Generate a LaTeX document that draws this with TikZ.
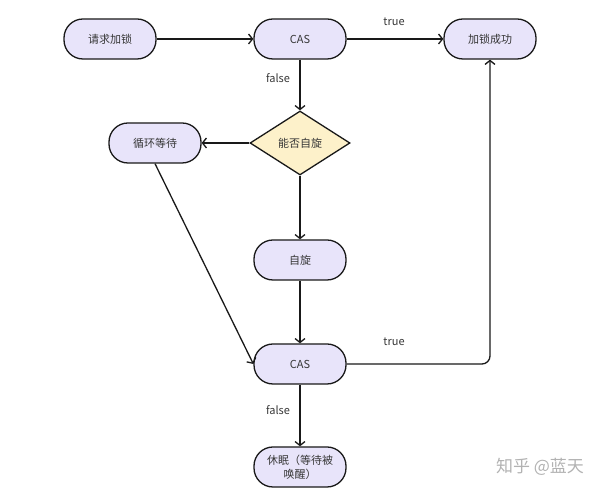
\documentclass[tikz,border=0pt]{standalone}
\usepackage{fontspec}
\setmainfont{Noto Sans CJK SC}
\usepackage{tikz}
\usetikzlibrary{shapes.geometric}
\usetikzlibrary{arrows.meta}
\definecolor{boxfill}{RGB}{232,228,250}
\definecolor{askfill}{RGB}{253,241,202}
\definecolor{inkline}{RGB}{25,25,25}
\definecolor{inktext}{RGB}{55,55,55}
\tikzset{my box/.style={
  draw=inkline,
  line width=1.3pt,
  fill=boxfill,
  rounded corners=19pt,
  minimum width=92pt,
  minimum height=40pt,
  inner sep=2pt,
  align=center,
  text=inktext,
  font=\fontsize{11}{14}\selectfont
  }
}
\tikzset{my ask/.style={
  draw=inkline,
  line width=1.3pt,
  fill=askfill,
  diamond,
  minimum width=100pt,
  minimum height=64pt,
  inner sep=0pt,
  text=inktext,
  font=\fontsize{11}{14}\selectfont
  }
}
\tikzset{my arrow/.style={
  inkline,
  line width=1.3pt,
  -{Straight Barb[length=4pt,width=10pt]}
  }
}
\tikzset{my label/.style={
  text=inktext,
  font=\fontsize{11}{14}\selectfont
  }
}

\begin{document}
\begin{tikzpicture}[x=1pt,y=1pt]
    \useasboundingbox (0,0) rectangle (595,500);

    % top row
    \foreach \x/\t/\n in {110/请求加锁/req,300/CAS/casA,490/加锁成功/done}
        \node[my box] (\n) at (\x,461) {\t};

    % middle row
    \node[my ask] (ask) at (300,357) {能否自旋};
    \node[my box] (wait) at (155,357) {循环等待};

    % centre column
    \node[my box] (spin) at (300,240) {自旋};
    \node[my box] (casB) at (300,136) {CAS};
    \node[my box] (sleep) at (300,33) {休眠（等待被\\唤醒）};

    \draw[my arrow] (req) -- (casA);
    \draw[my arrow] (casA) -- (done);
    \node[my label] (t1) at (394,478) {true};

    \draw[my arrow] (casA) -- (ask);
    \node[my label] (f1) at (278,422) {false};

    \draw[my arrow] (ask) -- (wait);
    \draw[my arrow] (ask) -- (spin);
    \draw[my arrow] (spin) -- (casB);
    \draw[my arrow] (wait.south) -- (casB.west);

    \draw[my arrow,rounded corners=8pt] (casB.east) -| (done.south);
    \node[my label] (t2) at (394,158) {true};

    \draw[my arrow] (casB) -- (sleep);
    \node[my label] (f2) at (278,90) {false};

    \node[text=black!30,font=\fontsize{17}{20}\selectfont] (mark) at (540,33) {知乎 @蓝天};
\end{tikzpicture}
\end{document}
